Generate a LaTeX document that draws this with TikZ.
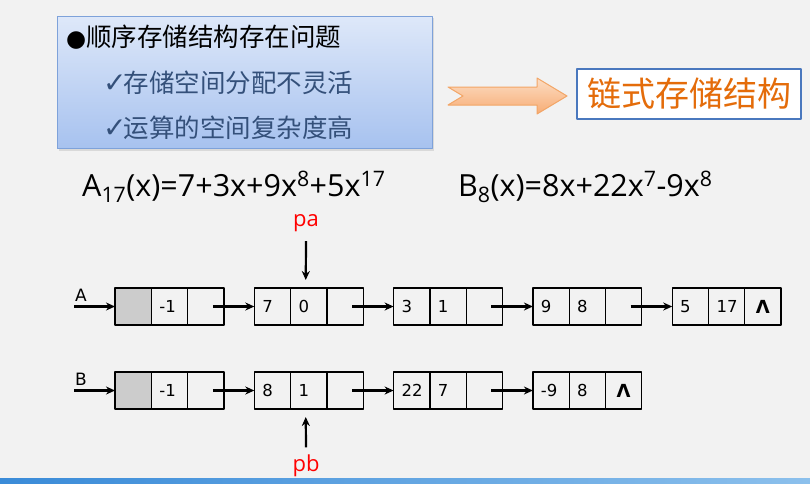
\documentclass[tikz,border=0pt]{standalone}
\usepackage{fontspec}
\setmainfont{Open Sans}
\newfontfamily\cjk{Noto Sans CJK SC}
\newfontfamily\dejavu{DejaVu Sans}
\usetikzlibrary{positioning,arrows.meta}

\definecolor{bgcol}{HTML}{F2F2F2}
\definecolor{boxtop}{HTML}{DEE8F9}
\definecolor{boxbot}{HTML}{A7C2EF}
\definecolor{boxline}{HTML}{7EA2DA}
\definecolor{txtblue}{HTML}{34507A}
\definecolor{orgtop}{HTML}{FCDDC4}
\definecolor{orgbot}{HTML}{F7AC74}
\definecolor{orgline}{HTML}{F2A566}
\definecolor{orgtxt}{HTML}{E46C0A}
\definecolor{framecol}{HTML}{4A78BE}
\definecolor{stripL}{HTML}{3A8BD8}
\definecolor{stripR}{HTML}{8CC0EC}

\tikzset{
  cell/.style={draw, line width=1.3pt, outer sep=0pt, minimum height=37pt,
    text width=20.3pt, inner xsep=8pt, inner ysep=0pt, align=left,
    font=\dejavu\fontsize{16.5}{18}\selectfont},
  headcell/.style={fill=gray!40},
  ptr/.style={-{Stealth[length=9pt,width=8pt]}, line width=2.2pt},
  ptrname/.style={text=red, font=\fontsize{22}{22}\selectfont},
  listname/.style={font=\dejavu\fontsize{17}{17}\selectfont, inner sep=0pt},
  formula/.style={anchor=base west, inner sep=0pt, font=\fontsize{30.5}{30.5}\selectfont},
}
\newcommand{\nullmark}{\makebox[20.3pt]{\fontsize{18}{18}\selectfont\bfseries Λ}}
\newcommand{\tick}{{\dejavu\fontsize{28}{28}\selectfont ✓}\hspace{-3pt}}
\newcommand{\lnode}[7][]{%
  \node[cell,anchor=west,#1] (#2-1) at (#3,#4) {#5};
  \node[cell,right=0pt of #2-1] (#2-2) {#6};
  \node[cell,right=0pt of #2-2] (#2-3) {#7};}

\begin{document}
\begin{tikzpicture}[x=1pt, y=-1pt, line join=round, >=stealth]
\fill[bgcol] (0,0) rectangle (810,483);
\shade[left color=stripL, right color=stripR] (0,478) rectangle (810,483);

\fill[gray!30] (59,18) rectangle (434,151);
\shade[top color=boxtop, bottom color=boxbot, draw=boxline, line width=1pt] (57,16) rectangle (432,148);
\node[anchor=west, inner sep=0pt] (q1) at (66,37) {{\dejavu\fontsize{23}{23}\selectfont ●}\cjk\fontsize{25.5}{25.5}\selectfont 顺序存储结构存在问题};
\node[anchor=west, inner sep=0pt, text=txtblue] (q2) at (103,83) {\tick\cjk\fontsize{25.5}{25.5}\selectfont 存储空间分配不灵活};
\node[anchor=west, inner sep=0pt, text=txtblue] (q3) at (103,128) {\tick\cjk\fontsize{25.5}{25.5}\selectfont 运算的空间复杂度高};

\shade[top color=orgtop, bottom color=orgbot, draw=orgline, line width=1pt]
  (448,87) -- (537,87) -- (537,78) -- (567,96) -- (537,114) -- (537,105) -- (448,105) -- (463,96) -- cycle;
\node[draw=framecol, fill=white, line width=1.2pt, minimum width=224pt, minimum height=50pt, inner sep=0pt]
  (chain) at (689,94) {\cjk\fontsize{34}{34}\selectfont\color{orgtxt}链式存储结构};

\node[formula] (fa) at (82,196) {A\textsubscript{17}(x)=7+3x+9x\textsuperscript{8}+5x\textsuperscript{17}};
\node[formula] (fb) at (458,196) {B\textsubscript{8}(x)=8x+22x\textsuperscript{7}-9x\textsuperscript{8}};

\lnode[headcell]{a0}{115}{306.5}{}{-1}{}
\lnode{a1}{254.3}{306.5}{7}{0}{}
\lnode{a2}{393.6}{306.5}{3}{1}{}
\lnode{a3}{532.9}{306.5}{9}{8}{}
\lnode{a4}{672.2}{306.5}{5}{17}{\nullmark}

\lnode[headcell]{b0}{115}{390.5}{}{-1}{}
\lnode{b1}{254.3}{390.5}{8}{1}{}
\lnode{b2}{393.6}{390.5}{22}{7}{}
\lnode{b3}{532.9}{390.5}{-9}{8}{\nullmark}

\node[listname] (A) at (81,295) {A};
\coordinate (A0) at (74,306.5);
\draw[ptr] (A0) -- (a0-1.west);
\draw[ptr] ([xshift=7pt]a0-3.center) -- (a1-1.west);
\draw[ptr] ([xshift=7pt]a1-3.center) -- (a2-1.west);
\draw[ptr] ([xshift=7pt]a2-3.center) -- (a3-1.west);
\draw[ptr] ([xshift=7pt]a3-3.center) -- (a4-1.west);

\node[listname] (B) at (81,379) {B};
\coordinate (B0) at (74,390.5);
\draw[ptr] (B0) -- (b0-1.west);
\draw[ptr] ([xshift=7pt]b0-3.center) -- (b1-1.west);
\draw[ptr] ([xshift=7pt]b1-3.center) -- (b2-1.west);
\draw[ptr] ([xshift=7pt]b2-3.center) -- (b3-1.west);

\node[ptrname] (pa) at (306,223) {pa};
\draw[ptr] ([yshift=-6pt]pa.south) -- ([xshift=-3pt,yshift=8pt]a1-2.north);
\node[ptrname] (pb) at (306,466) {pb};
\draw[ptr] ([yshift=4pt]pb.north) -- ([xshift=-3pt,yshift=-8pt]b1-2.south);
\end{tikzpicture}
\end{document}
